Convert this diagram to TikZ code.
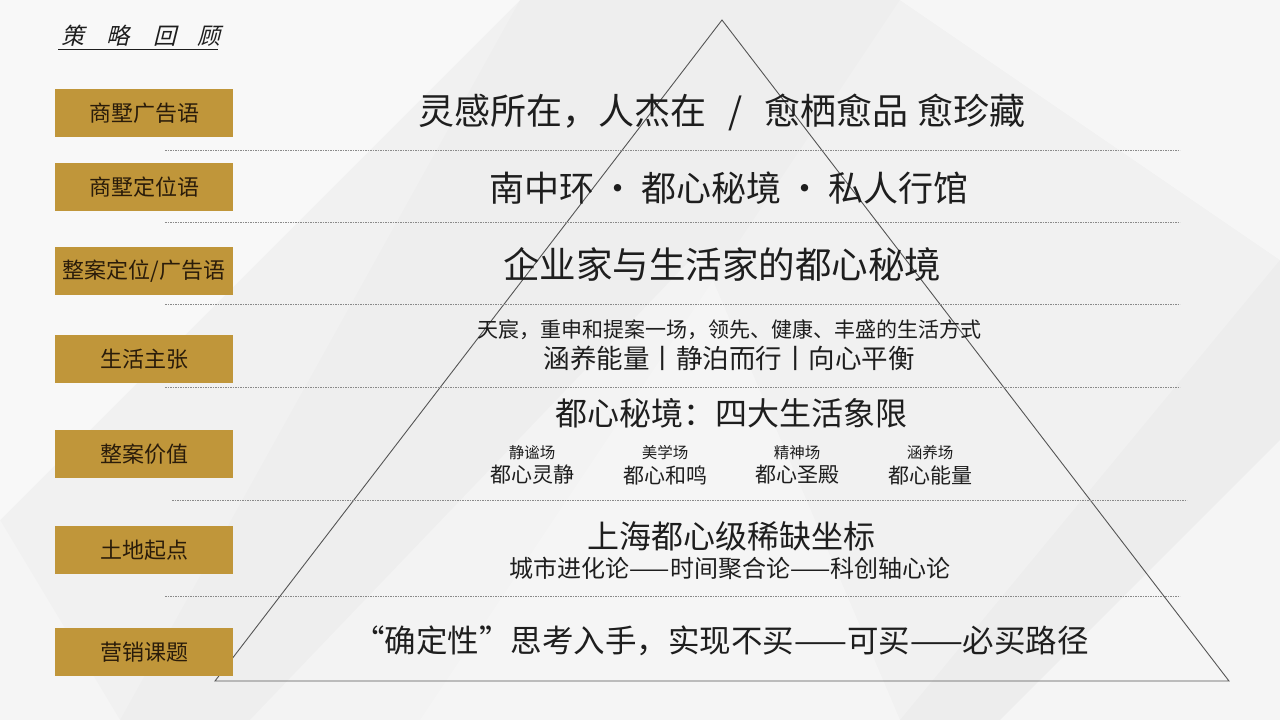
\documentclass[tikz,border=0pt]{standalone}
\usepackage{fontspec}
\setmainfont{Noto Sans CJK SC}
\newfontfamily\cjk{Noto Sans CJK SC}
\newfontfamily\cjkit[FakeSlant=0.25]{Noto Sans CJK SC}
\definecolor{gold}{HTML}{C0963A}
\definecolor{labeltext}{HTML}{2A1C0A}
\definecolor{maintext}{HTML}{1E1E1E}
\definecolor{bgbase}{HTML}{F1F1F1}
\definecolor{dashgray}{HTML}{8A8A8A}
\definecolor{tri}{HTML}{555555}
\newcommand{\fs}[1]{\fontsize{#1}{#1}\selectfont}
\tikzset{
  labelbox/.style={fill=gold, minimum width=178pt, minimum height=48pt, inner sep=0pt, text=labeltext, font=\cjk\fs{22}},
  sep/.style={draw=dashgray, line width=0.7pt, dash pattern=on 1.6pt off 0.9pt},
  big/.style={text=maintext, font=\cjk\fs{35}, inner sep=0pt},
  mid/.style={text=maintext, font=\cjk\fs{32}, inner sep=0pt},
  sub/.style={text=maintext, font=\cjk\fs{24}, inner sep=0pt},
  small/.style={text=maintext, font=\cjk\fs{21}, inner sep=0pt},
  tiny/.style={text=maintext, font=\cjk\fs{15.5}, inner sep=0pt},
}
\begin{document}
\begin{tikzpicture}[x=1pt,y=-1pt]
\useasboundingbox (0,0) rectangle (1280,720);
% background facets (subtle)
\fill[bgbase] (0,0) rectangle (1280,720);
\fill[white,opacity=0.55] (0,0) -- (520,0) -- (0,520) -- cycle;
\fill[white,opacity=0.4] (600,0) -- (1280,0) -- (1280,260) -- (900,0) -- cycle;
\fill[white,opacity=0.35] (1000,720) -- (1280,440) -- (1280,720) -- cycle;
\fill[black,opacity=0.012] (520,0) -- (900,0) -- (420,720) -- (120,720) -- cycle;
\fill[white,opacity=0.3] (250,720) -- (700,250) -- (900,720) -- cycle;
\fill[black,opacity=0.015] (1280,260) -- (1280,440) -- (1000,720) -- (900,720) -- cycle;
\fill[white,opacity=0.3] (0,520) -- (0,720) -- (120,720) -- cycle;

% title
\node[text=maintext, font=\cjkit\fs{23}, inner sep=0pt, anchor=west] (title) at (61,36) {策\hspace{22pt}略\hspace{24pt}回\hspace{21pt}顾};
\draw[maintext, line width=0.8pt] (58,49) coordinate (ul1) -- (218,49) coordinate (ul2);

% triangle
\coordinate (apex) at (722,20);
\coordinate (bl) at (215,681);
\coordinate (br) at (1229,681);
\draw[tri, line width=0.9pt] (bl) -- (apex) -- (br) -- cycle;

% separators
\draw[sep] (165,150) coordinate (s1a) -- (1180,150) coordinate (s1b);
\draw[sep] (165,222) coordinate (s2a) -- (1180,222) coordinate (s2b);
\draw[sep] (165,304) coordinate (s3a) -- (1180,304) coordinate (s3b);
\draw[sep] (165,387) coordinate (s4a) -- (1180,387) coordinate (s4b);
\draw[sep] (172,500) coordinate (s5a) -- (1187,500) coordinate (s5b);
\draw[sep] (165,596) coordinate (s6a) -- (1180,596) coordinate (s6b);

% label boxes
\node[labelbox] (l1) at (144,113) {商墅广告语};
\node[labelbox] (l2) at (144,187) {商墅定位语};
\node[labelbox] (l3) at (144,271) {整案定位/广告语};
\node[labelbox] (l4) at (144,359) {生活主张};
\node[labelbox] (l5) at (144,454) {整案价值};
\node[labelbox] (l6) at (144,550) {土地起点};
\node[labelbox] (l7) at (144,652) {营销课题};

% contents
\node[big, font=\cjk\fs{36}] (t1) at (722,112) {灵感所在，人杰在\hspace{22pt}/\hspace{22pt}愈栖愈品\hspace{9pt}愈珍藏};
\node[big] (t2) at (729,188) {南中环\,·\,都心秘境\,·\,私人行馆};
\node[big, font=\cjk\fs{36.5}] (t3) at (722,265) {企业家与生活家的都心秘境};
\node[small] (t4a) at (729,330) {天宸，重申和提案一场，领先、健康、丰盛的生活方式};
\node[font=\cjk\fs{26.5}, text=maintext, inner sep=0pt] (t4b) at (729,358) {涵养能量丨静泊而行丨向心平衡};
\node[mid] (t5) at (731,413) {都心秘境：四大生活象限};
\node[tiny] (q1a) at (532,453) {静谧场};
\node[tiny] (q2a) at (665,453) {美学场};
\node[tiny] (q3a) at (797,453) {精神场};
\node[tiny] (q4a) at (930,453) {涵养场};
\node[small] (q1b) at (532,475) {都心灵静};
\node[small] (q2b) at (665,475) {都心和鸣};
\node[small] (q3b) at (797,475) {都心圣殿};
\node[small] (q4b) at (930,475) {都心能量};
\node[mid] (t6a) at (731,536) {上海都心级稀缺坐标};
\node[sub] (t6b) at (730,568) {城市进化论——时间聚合论——科创轴心论};
\node[font=\cjk\fs{31.5}, text=maintext, inner sep=0pt] (t7) at (721,641) {“确定性”思考入手，实现不买——可买——必买路径};
\end{tikzpicture}
\end{document}
